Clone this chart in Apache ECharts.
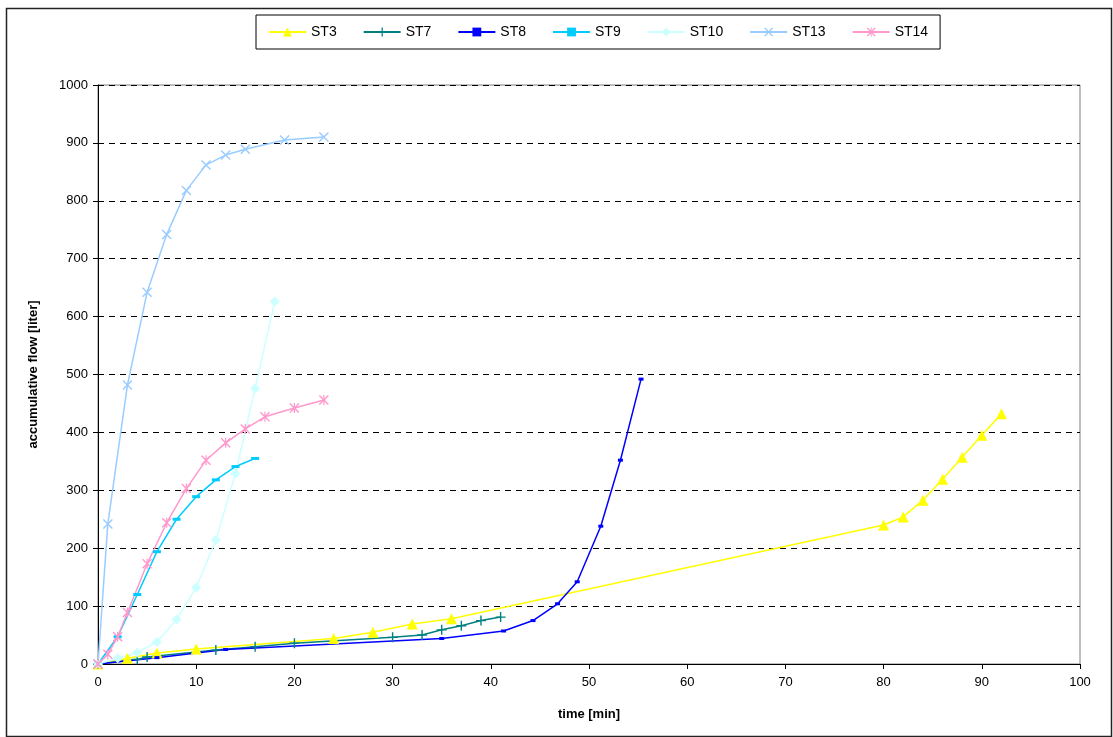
<!DOCTYPE html>
<html>
<head>
<meta charset="utf-8">
<script src="https://cdn.jsdelivr.net/npm/echarts@6/dist/echarts.min.js"></script>
<style>html,body{margin:0;padding:0;background:#fff;}#c{width:1113px;height:737px;}</style>
</head>
<body>
<div id="c"></div>
<script>
// ---- data ----
const xTicks = [0,10,20,30,40,50,60,70,80,90,100];
const yTicks = [0,100,200,300,400,500,600,700,800,900,1000];

const st3T = [0,3,6,10,24,28,32,36,80,82,84,86,88,90,92];
const st3V = [0,10,19,26,44,55,69,78,240,254,283,319,357,395,432];

const st7T = [0,4,5,12,16,20,30,33,35,37,39,41];
const st7V = [0,8,12,24,30,36,46,50,59,66,75,81];

const st8T = [0,6,13,35,41.3,44.3,46.8,48.8,51.2,53.2,55.3];
const st8V = [0,11,25,44,57,75,104,142,238,352,492];

const st9T = [0,2,4,6,8,10,12,14,16];
const st9V = [0,47,120,194,250,289,318,341,355];

const st10T = [0,2,4,6,8,10,12,14,16,18];
const st10V = [0,10,20,38,77,132,214,329,476,626];

const st13T = [0,1,3,5,7,9,11,13,15,19,23];
const st13V = [0,242,482,642,742,818,862,879,889,905,910];

const st14T = [0,1,2,3,5,7,9,11,13,15,17,20,23];
const st14V = [0,17,47,89,173,244,303,352,382,406,427,442,456];

function pairs(t, v){ return t.map((x,i)=>[x, v[i]]); }

const PLUS = 'path://M-0.7,-5 L0.7,-5 L0.7,-0.7 L5,-0.7 L5,0.7 L0.7,0.7 L0.7,5 L-0.7,5 L-0.7,0.7 L-5,0.7 L-5,-0.7 L-0.7,-0.7 Z';
const XMARK = 'path://M-5,-4 L-4,-5 L0,-1 L4,-5 L5,-4 L1,0 L5,4 L4,5 L0,1 L-4,5 L-5,4 L-1,0 Z';
const AST = 'path://M-5,-4 L-4,-5 L-0.6,-1.6 L-0.6,-5 L0.6,-5 L0.6,-1.6 L4,-5 L5,-4 L1,0 L5,4 L4,5 L0.6,1.6 L0.6,5 L-0.6,5 L-0.6,1.6 L-4,5 L-5,4 L-1,0 Z';

function mk(name, t, v, color, symbol, size){
  return {
    name: name, type: 'line', data: pairs(t, v),
    symbol: symbol, symbolSize: size, showSymbol: true,
    lineStyle: {color: color, width: 1.5},
    itemStyle: {color: color},
    emphasis: {disabled: true},
    animation: false, z: 3
  };
}

const series = [
  mk('ST3', st3T, st3V, '#FFFF00', 'triangle', 11),
  mk('ST7', st7T, st7V, '#008080', PLUS, 10),
  mk('ST8', st8T, st8V, '#0000FF', 'rect', [5,3]),
  mk('ST9', st9T, st9V, '#00CCFF', 'rect', [8,3]),
  mk('ST10', st10T, st10V, '#CCFFFF', 'diamond', 10),
  mk('ST13', st13T, st13V, '#99CCFF', XMARK, 10),
  mk('ST14', st14T, st14V, '#FF99CC', AST, 10)
];

const chart = echarts.init(document.getElementById('c'), null, {renderer: 'canvas'});
const FONT = 'Liberation Sans, Arial, sans-serif';
chart.setOption({
  backgroundColor: '#fff',
  animation: false,
  textStyle: {fontFamily: FONT},
  graphic: [{
    type: 'rect', left: 4, top: 6, z: -1,
    shape: {width: 1105, height: 728},
    style: {fill: 'none', stroke: '#222', lineWidth: 1.5}
  }],
  legend: {
    left: 256, top: 15,
    padding: [10, 12, 10, 12],
    itemGap: 26, itemWidth: 37, itemHeight: 11,
    borderColor: '#000', borderWidth: 1,
    textStyle: {fontFamily: FONT, fontSize: 14, color: '#000'},
    data: ['ST3','ST7','ST8','ST9','ST10','ST13','ST14']
  },
  grid: {left: 98, right: 33, top: 85, bottom: 73, show: true, borderColor: '#808080', borderWidth: 1},
  xAxis: {
    type: 'value', min: xTicks[0], max: xTicks[xTicks.length-1], interval: 10,
    name: 'time [min]', nameLocation: 'middle', nameGap: 44,
    nameTextStyle: {fontFamily: FONT, fontSize: 13, fontWeight: 'bold', color: '#000'},
    axisLine: {show: true, onZero: false, lineStyle: {color: '#000', width: 1}},
    axisTick: {show: true, inside: false, length: 5, lineStyle: {color: '#000'}},
    axisLabel: {fontFamily: FONT, fontSize: 13, color: '#000', margin: 12},
    splitLine: {show: false}
  },
  yAxis: {
    type: 'value', min: yTicks[0], max: yTicks[yTicks.length-1], interval: 100,
    name: 'accumulative flow [liter]', nameLocation: 'middle', nameGap: 58, nameRotate: 90,
    nameTextStyle: {fontFamily: FONT, fontSize: 13, fontWeight: 'bold', color: '#000'},
    axisLine: {show: true, onZero: false, lineStyle: {color: '#000', width: 1}},
    axisTick: {show: true, inside: false, length: 5, lineStyle: {color: '#000'}},
    axisLabel: {fontFamily: FONT, fontSize: 13, color: '#000', margin: 10, formatter: function(v){ return String(v); }},
    splitLine: {show: true, lineStyle: {color: '#000', type: [6, 5], width: 1}}
  },
  series: series
});
</script>
</body>
</html>
